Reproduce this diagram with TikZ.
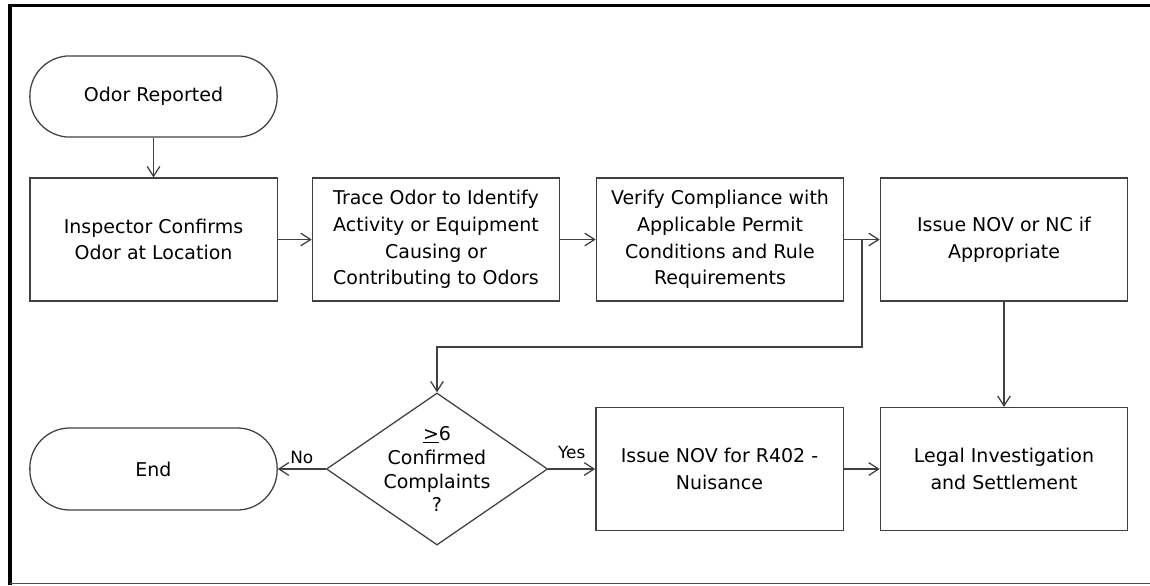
\documentclass[tikz,border=0pt]{standalone}
\usepackage{fontspec}
\setmainfont{DejaVu Sans}
\usetikzlibrary{shapes.geometric,arrows.meta}

\begin{document}
\begin{tikzpicture}[x=0.025cm,y=-0.025cm,
	font=\fontsize{13.5}{19}\selectfont,
	line/.style={draw=black!75,line width=0.9pt},
	arr/.style={line,-{Straight Barb[length=7pt,width=9pt]}},
	terminal/.style={line,rectangle,rounded corners=1cm,minimum width=6.18cm,minimum height=2.03cm,align=center},
	process/.style={line,rectangle,minimum width=6.18cm,minimum height=3.07cm,align=center,inner sep=2pt},
	decision/.style={line,diamond,minimum width=5.53cm,minimum height=3.8cm,inner sep=0pt},
	answer/.style={above,inner sep=3pt,font=\fontsize{12}{14}\selectfont}]

	\useasboundingbox (0,0) rectangle (1150,585);

	% frame
	\draw[line width=2.8pt] (10,585) -- (10,5.5) -- (1150,5.5);
	\draw[black!70,line width=1pt] (10,583.5) -- (1150,583.5);

	% top row
	\node[terminal] (start) at (153.5,96.5) {Odor Reported};

	\node[process] (confirm) at (153.5,239.5) {Inspector Confirms\\Odor at Location};
	\node[process] (trace) at (436,239.5) {Trace Odor to Identify\\Activity or Equipment\\Causing or\\Contributing to Odors};
	\node[process] (verify) at (720,239.5) {Verify Compliance with\\Applicable Permit\\Conditions and Rule\\Requirements};
	\node[process] (issue) at (1004,239.5) {Issue NOV or NC if\\Appropriate};

	% bottom row
	\node[terminal,minimum height=2.05cm] (stop) at (153.5,469) {End};
	\node[decision] (check) at (437,469) {};
	\node[align=center,font=\fontsize{13.5}{17}\selectfont] at (check) {\underline{>}6\\Confirmed\\Complaints\\?};
	\node[process] (nuisance) at (719.5,469) {Issue NOV for R402 -\\Nuisance};
	\node[process] (legal) at (1004,469) {Legal Investigation\\and Settlement};

	\coordinate (split) at (862,347);

	\draw[arr] (start) -- (confirm);
	\draw[arr] (confirm) -- (trace);
	\draw[arr] (trace) -- (verify);
	\draw[arr] (verify) -- (issue);
	\draw[arr] (verify.east -| split) -- (split) -| (check.north);
	\draw[arr] (issue) -- (legal);
	\draw[arr] (check) -- node[answer] {No} (stop);
	\draw[arr] (check) -- node[answer,yshift=4pt] {Yes} (nuisance);
	\draw[arr] (nuisance) -- (legal);
\end{tikzpicture}
\end{document}
